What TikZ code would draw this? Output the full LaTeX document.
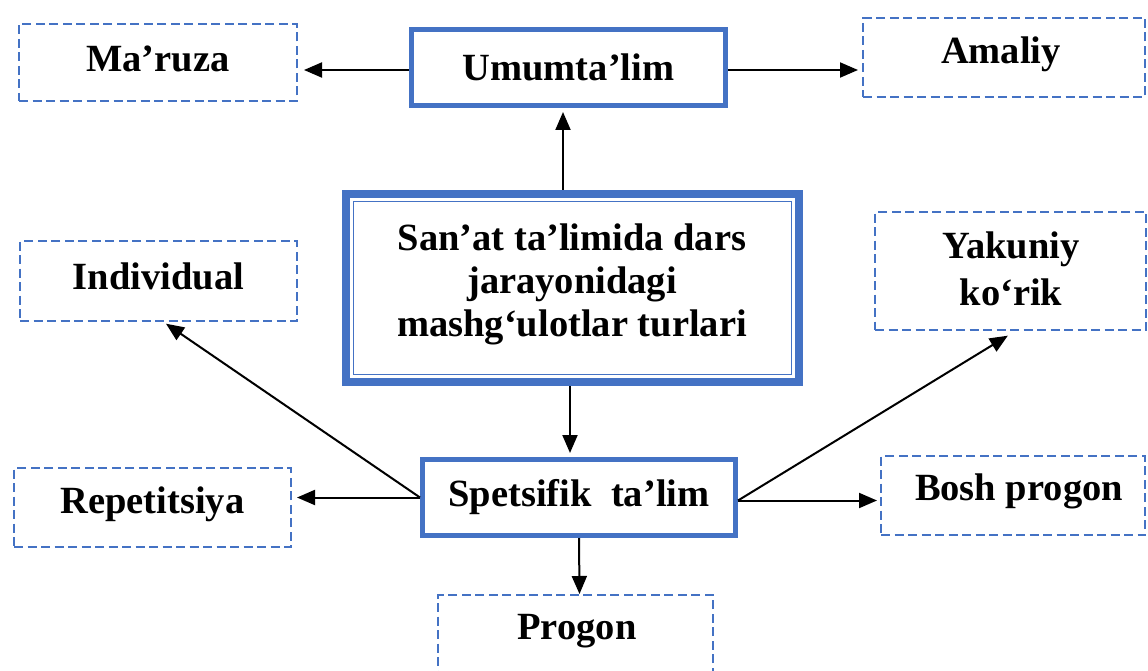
\documentclass[tikz,border=0pt]{standalone}
\usepackage{fontspec}
\setmainfont{Liberation Serif}
\usetikzlibrary{arrows.meta}
\definecolor{boxblue}{HTML}{4472C4}
\begin{document}
\begin{tikzpicture}[x=1pt,y=-1pt,
  every node/.style={font=\bfseries\fontsize{38.5}{43}\selectfont, align=center, inner sep=0pt},
  dbox/.style={draw=boxblue, line width=2pt, dash pattern=on 9pt off 4.5pt},
  sbox/.style={draw=boxblue, line width=5pt, fill=white},
  arr/.style={-{Triangle[length=18pt,width=15pt]}, line width=2pt, black}]
\useasboundingbox (0,0) rectangle (1148,671);

% dashed boxes (text placed separately)
\node[dbox, minimum width=278pt, minimum height=77pt] (maruza) at (158,62.5) {};
\node (maruzat) at (158,58.5) {Ma’ruza};
\node[dbox, minimum width=282pt, minimum height=79pt] (amaliy) at (1004,57.5) {};
\node (amaliyt) at (1001,54) {Amaliy};
\node[dbox, minimum width=277pt, minimum height=80pt] (individual) at (158.5,281) {};
\node (individualt) at (158.5,276.5) {Individual};
\node[dbox, minimum width=271pt, minimum height=118pt] (yakuniy) at (1010.5,271) {};
\node[font=\bfseries\fontsize{38.5}{47}\selectfont] (yakuniyt) at (1011,268.5) {Yakuniy\\ko‘rik};
\node[dbox, minimum width=277pt, minimum height=79pt] (repet) at (152.5,507.5) {};
\node (repett) at (152.5,504) {Repetitsiya};
\node[dbox, minimum width=264pt, minimum height=79pt] (bosh) at (1013,495.5) {};
\node (bosht) at (1019,491) {Bosh progon};
\node[dbox, minimum width=275pt, minimum height=90pt] (progon) at (575.5,640) {};
\node (progont) at (577,631) {Progon};

% solid boxes
\node[sbox, minimum width=314pt, minimum height=76pt] (umum) at (568.5,67.5) {Umumta’lim};
\node[sbox, minimum width=313pt, minimum height=76pt] (spets) at (579,497.5) {Spetsifik~~ta’lim};

% central double box
\node[draw=boxblue, line width=8pt, minimum width=453pt, minimum height=188pt] (central) at (572.5,288) {};
\node[draw=boxblue, line width=1.8pt, minimum width=438pt, minimum height=173pt] (centralin) at (572.5,288) {};
\node (centralt) at (572,284.5) {San’at ta’limida dars\\jarayonidagi\\mashg‘ulotlar turlari};

% arrows
\draw[arr, shorten >=6pt] ([yshift=-2.5pt]umum.west) -- ([yshift=-2.5pt]maruza.east |- umum.west);
\draw[arr, shorten >=4pt] ([yshift=-2.5pt]umum.east) -- ([yshift=-2.5pt]amaliy.west |- umum.east);
\draw[arr, shorten >=4pt] ([xshift=-5.5pt]umum.south |- central.north) -- ([xshift=-5.5pt]umum.south);
\draw[arr, shorten >=4pt] ([xshift=-2.5pt]central.south) -- ([xshift=-2.5pt]central.south |- spets.north);
\draw[arr, shorten >=3pt] (spets.west) -- ([xshift=5pt]individual.south);
\draw[arr, shorten >=5pt] (spets.west) -- (repet.east |- spets.west);
\draw[arr, shorten >=9pt] ([yshift=-3pt]spets.east) -- ([xshift=5pt]yakuniy.south);
\draw[arr, shorten >=3pt] ([yshift=-3pt]spets.east) -- ([yshift=-3pt]bosh.west |- spets.east);
\draw[arr, shorten >=0pt] (spets.south) -- ([xshift=4pt]progon.north);
\end{tikzpicture}
\end{document}
